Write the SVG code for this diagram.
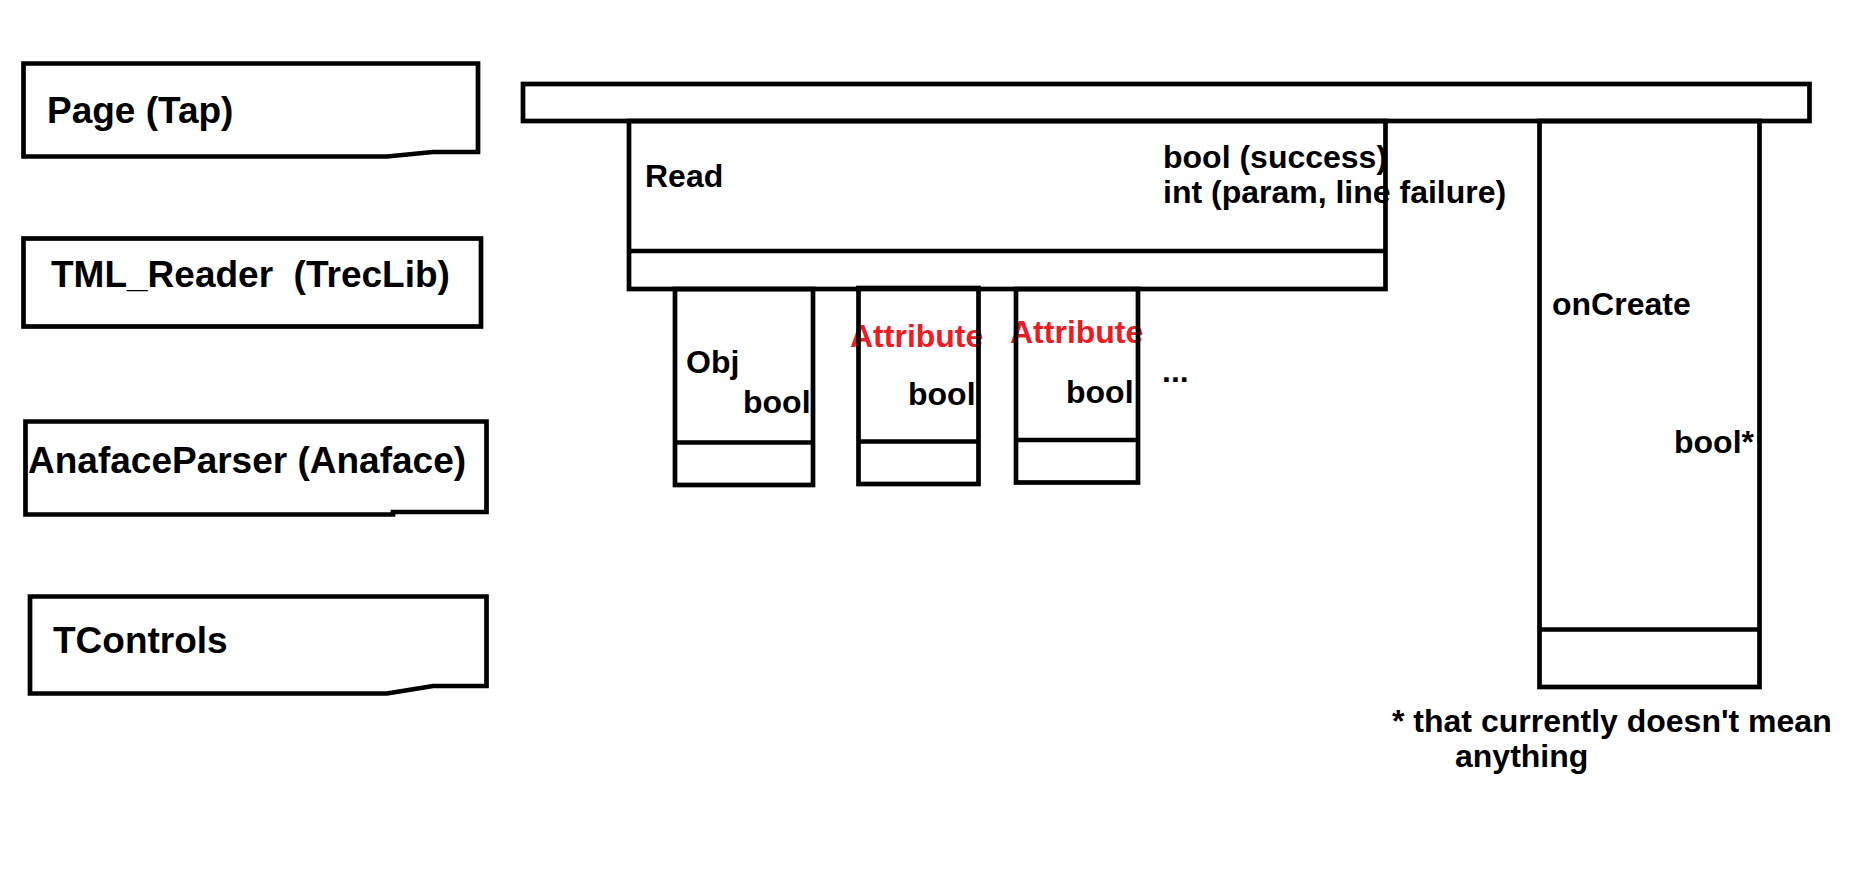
<svg xmlns="http://www.w3.org/2000/svg" width="1868" height="872" viewBox="0 0 1868 872">
<style>
.box{fill:none;stroke:#000;stroke-width:4.7}
.t{font-family:"Liberation Sans",Arial,sans-serif;font-weight:bold;fill:#000;white-space:pre}
.big{font-size:37px}
.sm{font-size:32px}
.red{fill:#ED1C24}
</style>
<rect width="1868" height="872" fill="#fff"/>
<g id="page">
<path class="box" d="M23.5,63.5 H478 V152 H433 L387,156.5 H23.5 Z"/>
<text class="t big" x="47" y="123">Page (Tap)</text>
</g>
<g id="tml-reader">
<rect class="box" x="23.5" y="238.5" width="457.5" height="88"/>
<text class="t big" x="51" y="287" xml:space="preserve">TML_Reader  (TrecLib)</text>
</g>
<g id="anaface-parser">
<path class="box" d="M25.5,421.5 H486.5 V512 H393 V514.5 H25.5 Z"/>
<text class="t big" x="28" y="473">AnafaceParser (Anaface)</text>
</g>
<g id="tcontrols">
<path class="box" d="M30,596.5 H486.5 V686 H433 L387,693.5 H30 Z"/>
<text class="t big" x="53" y="653">TControls</text>
</g>
<g id="top-bar">
<rect class="box" x="523" y="84" width="1286.5" height="37"/>
</g>
<g id="read">
<text class="t sm" x="645" y="187">Read</text>
<text class="t sm" x="1163" y="168">bool (success)</text>
<text class="t sm" x="1163" y="203">int (param, line failure)</text>
<rect class="box" x="629" y="121" width="756.5" height="168"/>
<line class="box" x1="629" y1="251" x2="1385.5" y2="251"/>
</g>
<g id="obj">
<text class="t sm" x="686" y="373">Obj</text>
<text class="t sm" x="743" y="413">bool</text>
<rect class="box" x="675" y="289" width="138" height="196"/>
<line class="box" x1="675" y1="442.5" x2="813" y2="442.5"/>
</g>
<g id="attribute-1">
<text class="t sm red" x="850" y="347">Attribute</text>
<text class="t sm" x="908" y="405">bool</text>
<rect class="box" x="858.5" y="288" width="120" height="196"/>
<line class="box" x1="858.5" y1="441.5" x2="978.5" y2="441.5"/>
</g>
<g id="attribute-2">
<text class="t sm red" x="1010" y="343">Attribute</text>
<text class="t sm" x="1066" y="403">bool</text>
<rect class="box" x="1016" y="289" width="122" height="193.5"/>
<line class="box" x1="1016" y1="440" x2="1138" y2="440"/>
</g>
<g id="more">
<text class="t sm" x="1162" y="382">...</text>
</g>
<g id="oncreate">
<text class="t sm" x="1552" y="315">onCreate</text>
<text class="t sm" x="1674" y="453">bool*</text>
<rect class="box" x="1539.5" y="121" width="220" height="566"/>
<line class="box" x1="1539.5" y1="629.5" x2="1759.5" y2="629.5"/>
</g>
<g id="footnote">
<text class="t sm" x="1392" y="732">* that currently doesn't mean</text>
<text class="t sm" x="1455" y="767">anything</text>
</g>
<g id="connectors"/>
</svg>
